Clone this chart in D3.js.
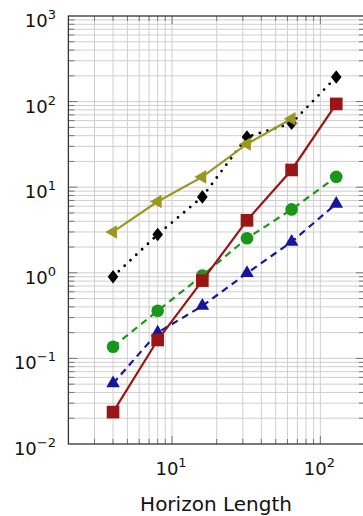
<!DOCTYPE html>
<html>
<head>
<meta charset="utf-8">
<script src="https://cdn.jsdelivr.net/npm/d3@7"></script>
<style>
  body { margin: 0; background: #fff; }
  svg { display: block; font-family: "DejaVu Sans", sans-serif; }
</style>
</head>
<body>
<div id="chart"></div>
<script>
// horizon lengths (x) and run times for each method
const horizons = [4, 8, 16, 32, 64, 128];
const blueTri   = [0.051, 0.20, 0.41, 0.99, 2.3, 6.4];
const greenCirc = [0.137, 0.36, 0.93, 2.53, 5.5, 13.2];
const redSquare = [0.0236, 0.164, 0.81, 4.1, 15.9, 94];
const blackDiam = [0.90, 2.8, 7.7, 38.6, 56, 194];
const oliveTri  = [3.0, 6.8, 13.2, 32, 63];

const xTicks = [10, 100];
const yTicks = [0.01, 0.1, 1, 10, 100, 1000];
const xTitle = "Horizon Length";

const W = 363, H = 516;
const x = d3.scaleLog().domain([2, 200]).range([68.4, 365]);
const y = d3.scaleLog().domain([0.01, 1000]).range([444, 16]);

const svg = d3.select("#chart").append("svg")
  .attr("width", W).attr("height", H);

// minor + major values for grids
let xMinor = [], yMinor = [];
for (let e = 0; e <= 2; e++) for (let m = 1; m <= 9; m++) {
  const v = m * Math.pow(10, e);
  if (v > 2 && v < 200) xMinor.push(v);
}
for (let e = -2; e <= 2; e++) for (let m = 1; m <= 9; m++) {
  const v = m * Math.pow(10, e);
  if (v > 0.01 && v < 1000) yMinor.push(v);
}

const [x0, x1] = x.range();
const [y0, y1] = y.range();

// grid
const grid = svg.append("g").attr("stroke", "#cfcfcf").attr("stroke-width", 1);
grid.selectAll(".vg").data(xMinor).join("line")
  .attr("x1", d => x(d)).attr("x2", d => x(d))
  .attr("y1", y1).attr("y2", y0);
grid.selectAll(".hg").data(yMinor).join("line")
  .attr("x1", x0).attr("x2", x1)
  .attr("y1", d => y(d)).attr("y2", d => y(d));

// ticks (inward)
const ticks = svg.append("g").attr("stroke", "#777").attr("stroke-width", 1);
const isMajor = d => Math.abs(Math.log10(d) - Math.round(Math.log10(d))) < 1e-9;
xMinor.forEach(d => {
  const len = isMajor(d) ? 8 : 5;
  ticks.append("line").attr("x1", x(d)).attr("x2", x(d)).attr("y1", y0).attr("y2", y0 - len);
  ticks.append("line").attr("x1", x(d)).attr("x2", x(d)).attr("y1", y1).attr("y2", y1 + len);
});
yMinor.forEach(d => {
  const len = isMajor(d) ? 9 : 6;
  ticks.append("line").attr("x1", x0).attr("x2", x0 + len).attr("y1", y(d)).attr("y2", y(d));
  ticks.append("line").attr("x1", x1).attr("x2", x1 - len).attr("y1", y(d)).attr("y2", y(d));
});

// frame
svg.append("rect")
  .attr("x", x0).attr("y", y1)
  .attr("width", x1 - x0).attr("height", y0 - y1)
  .attr("fill", "none").attr("stroke", "#333").attr("stroke-width", 1.3);

// tick labels
function powLabel(g, v) {
  const e = Math.round(Math.log10(v));
  g.append("tspan").text("10");
  g.append("tspan").attr("font-size", 13).attr("dy", -8)
    .text(e < 0 ? "\u2212" + (-e) : String(e));
}
yTicks.forEach(v => {
  const t = svg.append("text").attr("x", 56).attr("y", y(v) + 11)
    .attr("text-anchor", "end").attr("font-size", 18).attr("fill", "#111");
  powLabel(t, v);
});
xTicks.forEach(v => {
  const t = svg.append("text").attr("x", x(v) - 1).attr("y", 475)
    .attr("text-anchor", "middle").attr("font-size", 18).attr("fill", "#111");
  powLabel(t, v);
});
svg.append("text").attr("x", 216).attr("y", 511)
  .attr("text-anchor", "middle").attr("font-size", 20).attr("fill", "#111")
  .text(xTitle);

// diamond a bit wider than d3's default
const wideDiamond = {
  draw(ctx, size) {
    const h = Math.sqrt(size) * 0.85, w = h * 0.78;
    ctx.moveTo(0, -h); ctx.lineTo(w, 0); ctx.lineTo(0, h); ctx.lineTo(-w, 0); ctx.closePath();
  }
};

// series
const line = d3.line().x(d => x(d[0])).y(d => y(d[1]));
const series = [
  { vals: blueTri, color: "#16169a", dash: "7 5", cap: "butt", width: 2.2,
    sym: d3.symbolTriangle, size: 80, rot: 0 },
  { vals: greenCirc, color: "#1a961a", dash: "7 5", cap: "butt", width: 2.2,
    sym: d3.symbolCircle, size: 125, rot: 0 },
  { vals: redSquare, color: "#9a1616", dash: null, cap: "butt", width: 2.2,
    sym: d3.symbolSquare, size: 160, rot: 0 },
  { vals: blackDiam, color: "#000", dash: "0 8", cap: "round", width: 2.8,
    sym: wideDiamond, size: 64, rot: 0 },
  { vals: oliveTri, color: "#999922", dash: null, cap: "butt", width: 2.2,
    sym: d3.symbolTriangle, size: 80, rot: -90 }
];

series.forEach(s => {
  const pts = s.vals.map((v, i) => [horizons[i], v]);
  svg.append("path").datum(pts)
    .attr("d", line)
    .attr("fill", "none")
    .attr("stroke", s.color)
    .attr("stroke-width", s.width)
    .attr("stroke-linecap", s.cap)
    .attr("stroke-dasharray", s.dash);
  svg.append("g").selectAll("path").data(pts).join("path")
    .attr("d", d3.symbol().type(s.sym).size(s.size))
    .attr("transform", d => `translate(${x(d[0])},${y(d[1])}) rotate(${s.rot})`)
    .attr("fill", s.color);
});
</script>
</body>
</html>
